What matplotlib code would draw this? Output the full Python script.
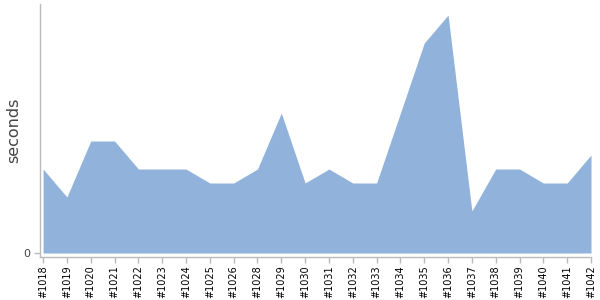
import matplotlib
matplotlib.use("Agg")
import matplotlib.pyplot as plt

builds = ["#1018", "#1019", "#1020", "#1021", "#1022", "#1023", "#1024", "#1025",
          "#1026", "#1028", "#1029", "#1030", "#1031", "#1032", "#1033", "#1034",
          "#1035", "#1036", "#1037", "#1038", "#1039", "#1040", "#1041", "#1042"]
seconds = [6, 4, 8, 8, 6, 6, 6, 5, 5, 6, 10, 5, 6, 5, 5, 10, 15, 17, 3, 6, 6, 5, 5, 7]

fig = plt.figure(figsize=(6, 3), dpi=100)
ax = fig.add_axes([40 / 600, 43 / 300, 551 / 600, 253 / 300])

x = list(range(len(builds)))
ax.fill_between(x, seconds, 0, color="#90b2db", linewidth=0)

ax.set_xlim(-0.13, len(builds) - 1)
ax.set_ylim(-0.286, 17.79)
ax.set_xticks(x)
ax.set_xticklabels(builds, rotation=90, fontsize=7, color="black")
ax.set_yticks([0])
ax.set_yticklabels(["0"], fontsize=8, color="#444444")
ax.set_ylabel("seconds", fontsize=11.5, color="#444444")
ax.yaxis.set_label_coords(-0.034, 0.5)

for s in ["top", "right"]:
    ax.spines[s].set_visible(False)
for s in ["left", "bottom"]:
    ax.spines[s].set_color("#bbbbbb")
    ax.spines[s].set_linewidth(1)
ax.tick_params(axis="both", colors="#bbbbbb", length=4, width=1)
ax.tick_params(axis="x", labelcolor="black", pad=2)
ax.tick_params(axis="y", labelcolor="#444444", pad=3)

fig.savefig("out.png", dpi=100)
